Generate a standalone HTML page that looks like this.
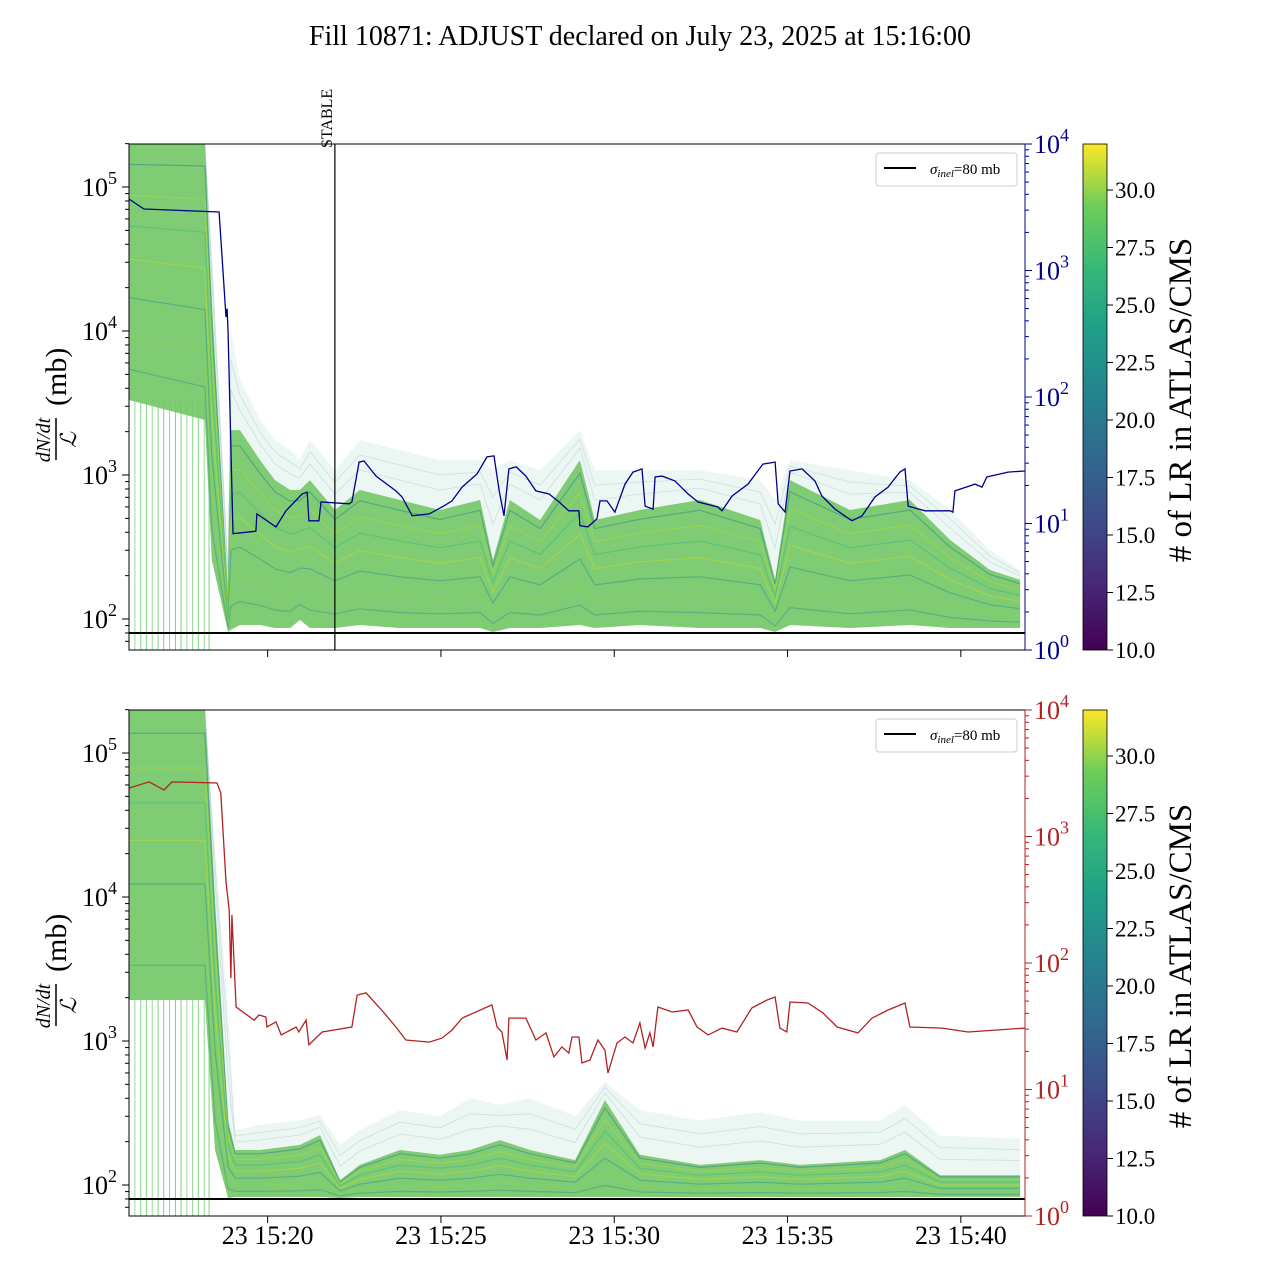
<!DOCTYPE html>
<html><head><meta charset="utf-8"><title>Fill 10871</title>
<style>
html,body{margin:0;padding:0;background:#fff;}
svg{display:block;font-family:"Liberation Serif","DejaVu Serif",serif;}
</style></head>
<body>
<svg id="chart" width="1280" height="1280" viewBox="0 0 1280 1280" xmlns="http://www.w3.org/2000/svg">
<defs>
<linearGradient id="viridis" x1="0" y1="1" x2="0" y2="0">
<stop offset="0" stop-color="#440154"/><stop offset="0.13" stop-color="#482878"/><stop offset="0.25" stop-color="#3e4a89"/><stop offset="0.38" stop-color="#31688e"/><stop offset="0.5" stop-color="#26828e"/><stop offset="0.63" stop-color="#1f9e89"/><stop offset="0.75" stop-color="#35b779"/><stop offset="0.88" stop-color="#6ece58"/><stop offset="1" stop-color="#fde725"/>
</linearGradient>
<clipPath id="clipTop"><rect x="129" y="144" width="896" height="506"/></clipPath>
<clipPath id="clipBot"><rect x="129" y="710" width="896" height="506"/></clipPath>
</defs>
<text x="640" y="45" text-anchor="middle" font-size="28">Fill 10871: ADJUST declared on July 23, 2025 at 15:16:00</text>
<g id="gTop"></g>
<g id="gBot"></g>
</svg>
<script>
// ---- data ----
const xTickLabels = ["23 15:20","23 15:25","23 15:30","23 15:35","23 15:40"];
const xTickMinutes = [4, 9, 14, 19, 24];          // minutes after 15:16:00
const stableMinute = 5.94;
const sigmaInel = 80;
const cbTicks = [10.0,12.5,15.0,17.5,20.0,22.5,25.0,27.5,30.0];
const cbMin = 10, cbMax = 32;
const combTimes = [0.17,0.34,0.5,0.67,0.84,1.0,1.17,1.34,1.5,1.67,1.84,2.0,2.17,2.31];

// top panel band (mb)
const topBandT     = [0,2.19,2.39,2.86,2.94,3.20,3.78,4.21,4.65,4.93,5.22,5.94,6.66,7.82,8.97,10.13,10.50,10.99,11.86,13.01,13.44,14.74,16.47,18.21,18.64,19.07,20.80,22.53,23.69,24.84,25.71];
const topBandUpper = [199000,199000,36500,257,10200,4570,2410,1750,1490,1270,1750,1080,1750,1490,1270,1270,1080,1270,1080,2050,1080,1080,1080,922,670,1270,1080,922,571,301,219];
const topBandDense = [199000,199000,16400,135,2050,2050,1270,922,787,787,922,571,787,670,571,670,257,670,487,1270,487,571,670,487,187,922,571,670,354,219,187];
const topBandLower = [3320,2410,257,81.2,84,90.8,90.8,86.6,86.6,98.4,86.6,86.6,90.8,86.6,86.6,86.6,81.2,86.6,86.6,90.8,86.6,90.8,86.6,86.6,81.2,90.8,86.6,90.8,86.6,86.6,86.6];

// bottom panel band (mb)
const botBandT     = [0,2.19,2.48,2.86,3.06,3.78,4.93,5.51,6.09,6.66,7.82,8.97,9.84,10.70,11.57,12.87,13.73,14.74,16.47,18.21,19.36,21.67,22.39,23.40,25.71];
const botBandUpper = [199000,199000,21200,1640,241,261,282,306,190,240,330,300,400,360,400,300,520,330,280,320,280,280,360,220,210];
const botBandDense = [199000,199000,9530,282,175,175,190,222,108,138,175,162,175,205,175,149,389,162,138,149,138,149,175,117,117];
const botBandLower = [1927,1927,175,81.2,82.5,82.5,82.5,82.5,81.2,82.5,82.5,82.5,82.5,82.5,82.5,82.5,82.5,82.5,82.5,82.5,82.5,82.5,82.5,82.5,82.5];

// blue ratio series (right axis, top)
const blueT = [0,0.43,2.60,2.80,2.83,2.86,3.0,3.66,3.69,4.24,4.53,4.99,5.14,5.19,5.48,5.54,6.35,6.43,6.64,6.78,7.13,7.70,7.88,8.17,8.66,9.03,9.32,9.61,10.04,10.33,10.53,10.68,10.82,10.96,11.17,11.45,11.74,12.12,12.41,12.69,12.98,13.01,13.24,13.50,13.59,13.79,14.02,14.31,14.54,14.80,14.89,15.12,15.18,15.38,15.75,16.13,16.42,16.99,17.11,17.40,17.86,18.29,18.64,18.73,18.93,19.07,19.42,19.79,19.99,20.37,20.86,21.15,21.52,21.90,22.24,22.39,22.48,22.97,23.69,23.77,23.83,24.41,24.61,24.75,25.36,25.85];
const blueV = [3673,3065,2900,429,500,320,8.3,8.7,11.9,9.4,12.6,17.1,17.7,10.5,10.5,14.8,14.3,14.8,30.6,31.2,23.7,18.1,16.2,11.5,11.9,13.5,15.1,19.4,24.6,33.6,34.2,18.1,11.5,27.0,28.0,23.7,18.1,17.1,14.8,12.6,12.6,9.6,9.4,10.9,15.1,15.1,12.3,20.5,25.5,27.0,13.7,13.0,23.3,23.7,21.7,17.1,14.8,13.5,12.6,16.5,20.5,29.5,30.6,14.3,12.3,26.0,27.0,21.7,16.5,13.0,10.5,11.5,16.2,19.4,25.5,27.0,13.7,12.6,12.6,12.3,18.1,20.5,19.4,23.3,25.5,26.0];

// red ratio series (right axis, bottom)
const redT = [0,0.58,1.01,1.24,2.54,2.65,2.80,2.89,2.94,2.97,3.09,3.61,3.75,3.95,3.98,4.24,4.39,4.82,4.90,5.11,5.19,5.57,6.43,6.58,6.84,7.36,7.70,7.99,8.66,9.03,9.32,9.61,10.47,10.62,10.76,10.91,10.96,11.45,11.74,12.03,12.26,12.49,12.69,12.78,12.98,13.07,13.30,13.53,13.73,13.82,14.08,14.31,14.54,14.74,14.89,15.03,15.12,15.26,15.67,16.13,16.39,16.71,17.11,17.54,17.97,18.41,18.64,18.78,18.98,19.07,19.59,20.02,20.43,21.03,21.44,21.90,22.39,22.53,23.46,24.21,24.99,25.85];
const redV = [2417,2700,2333,2700,2650,2208,437,262,76,240,44.9,35.4,38.8,37.4,31.2,34.2,27.0,31.2,28.5,35.4,22.5,28.5,31.2,55.8,58.0,40.3,31.2,24.6,23.7,25.5,29.5,36.7,46.6,31.2,28.5,17.1,36.7,36.7,24.6,28.0,18.1,21.7,19.4,26.0,26.0,16.2,17.1,24.6,20.5,13.5,23.3,26.0,23.3,33.6,21.3,28.0,21.7,44.9,41.0,42.5,31.2,27.0,30.6,28.5,44.1,51.0,53.9,30.6,28.5,49.2,48.3,40.3,31.2,28.0,36.7,42.5,48.3,31.2,30.6,28.5,29.5,30.6];

// ---- helpers ----
const NS = "http://www.w3.org/2000/svg";
function mk(tag, attrs, parent){const e=document.createElementNS(NS,tag);for(const k in attrs)e.setAttribute(k,attrs[k]);if(parent)parent.appendChild(e);return e;}
const X0=129, X1=1025, PX_PER_MIN=34.66;
function xs(t){return X0 + t*PX_PER_MIN;}
function makePanel(top){
  return {
    top: top, bot: top+506,
    yL: v => (top+475) - (Math.log10(v)-2)*144,
    yR: v => (top+506) - Math.log10(v)*126.5
  };
}
const P1 = makePanel(144), P2 = makePanel(710);

function bandPoly(T, A, B, yf){
  let pts=[];
  for(let i=0;i<T.length;i++) pts.push(xs(T[i]).toFixed(1)+","+yf(A[i]).toFixed(1));
  for(let i=T.length-1;i>=0;i--) pts.push(xs(T[i]).toFixed(1)+","+yf(B[i]).toFixed(1));
  return pts.join(" ");
}
function mixLog(a,b,f){return Math.pow(10, Math.log10(a)*(1-f)+Math.log10(b)*f);}

function drawPanel(g, P, clipId, bandT, bandU, bandD, bandL, serT, serV, serColor, rightColor, showXLabels){
  const cg = mk("g",{"clip-path":"url(#"+clipId+")"},g);
  combTimes.forEach((t,i)=>{
    const l = mk("line",{x1:xs(t),x2:xs(t),y1:P.yL(bandL[0]),y2:P.bot,stroke:(i%3==0?"#7fcf7a":"#5ec962"),"stroke-width":1,"stroke-opacity":0.8},cg);
    
    
  });
  const f = mk("polygon",{points:bandPoly(bandT,bandU,bandL,P.yL),fill:"#d4ebe3","fill-opacity":0.45},cg);
  
  
  const d = mk("polygon",{points:bandPoly(bandT,bandD,bandL,P.yL),fill:"#6cc45f","fill-opacity":0.85},cg);
  
  
  const fr=[0.08,0.2,0.32,0.45,0.6,0.75,0.88], cols=["#2a788e","#b5de2b","#35b779","#c8e020","#21918c","#8fd744","#3b8b8c"];
  fr.forEach((q,k)=>{
    const pts = bandT.map((t,i)=>xs(t).toFixed(1)+","+P.yL(mixLog(bandD[i],bandL[i],q)).toFixed(1)).join(" ");
    const s = mk("polyline",{points:pts,fill:"none",stroke:cols[k],"stroke-width":1.2,"stroke-opacity":0.45},cg);
    
    
  });
  [0.3,0.6].forEach(q=>{
    const pts = bandT.map((t,i)=>xs(t).toFixed(1)+","+P.yL(mixLog(bandU[i],bandD[i],q)).toFixed(1)).join(" ");
    const s = mk("polyline",{points:pts,fill:"none",stroke:"#6a9fb0","stroke-width":0.8,"stroke-opacity":0.25},cg);
    
    
  });
  const sl = mk("line",{x1:X0,x2:X1,y1:P.yL(sigmaInel),y2:P.yL(sigmaInel),stroke:"#000","stroke-width":2},g);
  
  
  const sp = mk("polyline",{points:serT.map((t,i)=>xs(t).toFixed(1)+","+P.yR(serV[i]).toFixed(1)).join(" "),fill:"none",stroke:serColor,"stroke-width":1.3},cg);
  
  
  const fr2 = mk("rect",{x:X0,y:P.top,width:X1-X0,height:506,fill:"none",stroke:"#000","stroke-width":1},g);
  
  
  for(let e=1;e<=5;e++){
    for(let m=1;m<=9;m++){
      const v=m*Math.pow(10,e), y=P.yL(v);
      if(y<P.top-0.5||y>P.bot+0.5) continue;
      mk("line",{x1:X0,x2:X0-(m==1?7:4),y1:y,y2:y,stroke:"#000","stroke-width":1},g);
      if(m==1){
        const t = mk("text",{x:X0-12,y:y+9,"text-anchor":"end","font-size":26},g);
        
        
        t.innerHTML = '10<tspan font-size="18" dy="-12">'+e+'</tspan>';
      }
    }
  }
  mk("line",{x1:X1,x2:X1,y1:P.top,y2:P.bot,stroke:rightColor,"stroke-width":1},g);
  for(let e=0;e<=4;e++){
    for(let m=1;m<=9;m++){
      const v=m*Math.pow(10,e), y=P.yR(v);
      if(y<P.top-0.5||y>P.bot+0.5) continue;
      mk("line",{x1:X1,x2:X1+(m==1?7:4),y1:y,y2:y,stroke:rightColor,"stroke-width":1},g);
      if(m==1){
        const t = mk("text",{x:X1+9,y:y+9,"font-size":26,fill:rightColor},g);
        
        
        t.innerHTML = '10<tspan font-size="18" dy="-12">'+e+'</tspan>';
      }
    }
  }
  xTickMinutes.forEach((m,i)=>{
    const x=xs(m);
    mk("line",{x1:x,x2:x,y1:P.bot,y2:P.bot+7,stroke:"#000","stroke-width":1},g);
    if(showXLabels){
      const t = mk("text",{x:x,y:P.bot+28,"text-anchor":"middle","font-size":26},g);
      
      
      t.textContent = xTickLabels[i];
    }
  });
  const yl = mk("g",{transform:"translate(56,"+(P.top+256)+") rotate(-90)"},g);
  
  
  mk("text",{x:-40,y:-6,"font-size":20,"font-style":"italic","text-anchor":"middle"},yl).textContent="dN/dt";
  mk("line",{x1:-60,x2:-18,y1:0,y2:0,stroke:"#000","stroke-width":1.5},yl);
  mk("text",{x:-40,y:20,"font-size":22,"font-style":"italic","text-anchor":"middle"},yl).textContent="ℒ";
  mk("text",{x:-6,y:10,"font-size":30},yl).textContent="(mb)";
  const lg = mk("g",{},g);
  
  
  mk("rect",{x:876,y:P.top+9,width:141,height:33,rx:3,fill:"#fff","fill-opacity":0.8,stroke:"#ccc"},lg);
  mk("line",{x1:884,x2:916,y1:P.top+24,y2:P.top+24,stroke:"#000","stroke-width":2},lg);
  const lt = mk("text",{x:930,y:P.top+30,"font-size":15},lg);
  lt.innerHTML='<tspan font-style="italic">σ</tspan><tspan font-style="italic" font-size="11" dy="3">inel</tspan><tspan dy="-3">=80 mb</tspan>';
  const cb = mk("g",{},g);
  
  
  mk("rect",{x:1083,y:P.top,width:24,height:506,fill:"url(#viridis)",stroke:"#000","stroke-width":0.8},cb);
  cbTicks.forEach(v=>{
    const y = P.bot - (v-cbMin)/(cbMax-cbMin)*506;
    mk("line",{x1:1107,x2:1113,y1:y,y2:y,stroke:"#000"},cb);
    const t = mk("text",{x:1115,y:y+8,"font-size":23},cb);
    
    
    t.textContent = v.toFixed(1);
  });
  const ct = mk("text",{transform:"translate(1191,"+(P.top+256)+") rotate(-90)","text-anchor":"middle","font-size":33},cb);
  
  
  ct.textContent = "# of LR in ATLAS/CMS";
}

drawPanel(document.getElementById("gTop"),P1,"clipTop",topBandT,topBandUpper,topBandDense,topBandLower,blueT,blueV,"#00008b","#00008b",false);
drawPanel(document.getElementById("gBot"),P2,"clipBot",botBandT,botBandUpper,botBandDense,botBandLower,redT,redV,"#b22222","#b22222",true);

const gT = document.getElementById("gTop");
const sx = xs(stableMinute);
const st = mk("line",{x1:sx,x2:sx,y1:144,y2:650,stroke:"#000","stroke-width":1.2},gT);


const stt = mk("text",{transform:"translate("+(sx-3)+",148) rotate(-90)","font-size":16},gT);


stt.textContent="STABLE";
</script>
</body></html>
